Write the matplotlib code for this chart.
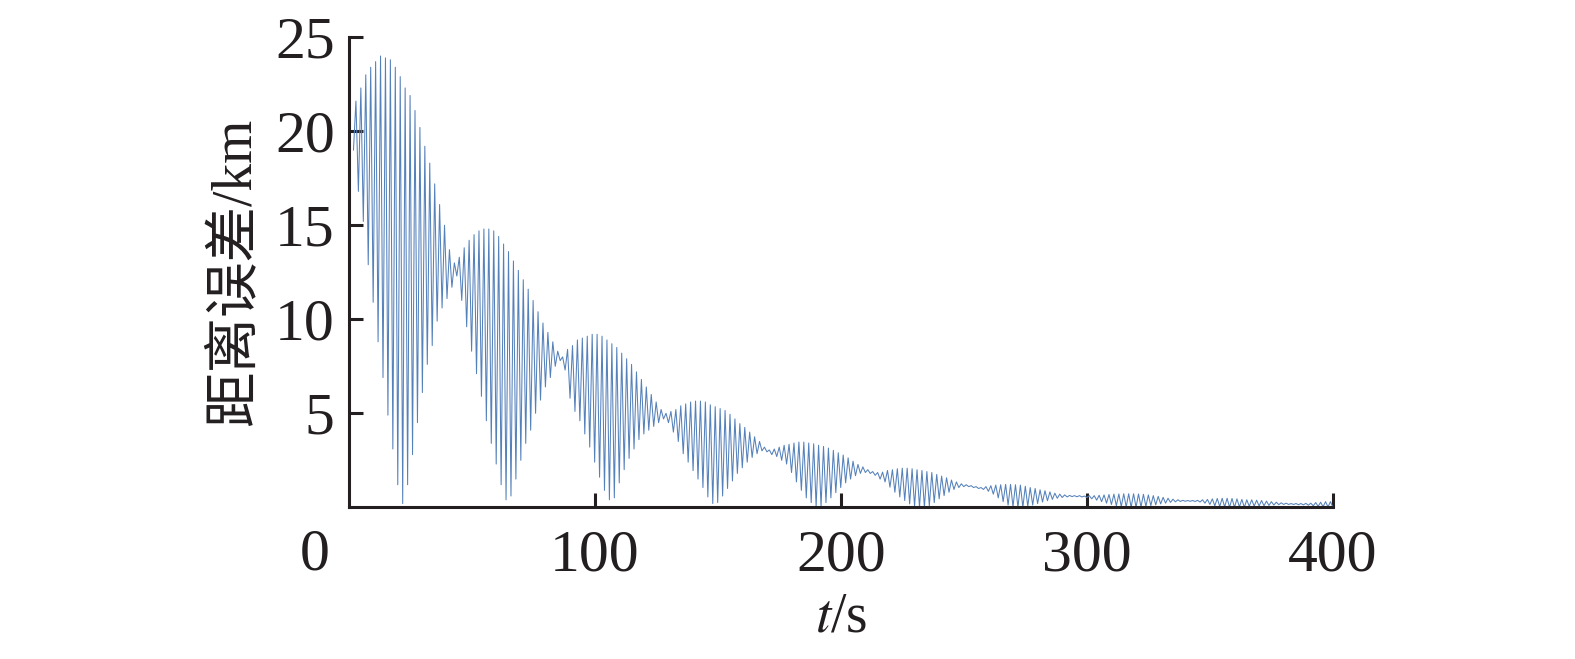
import numpy as np
import matplotlib
matplotlib.use('Agg')
import matplotlib.pyplot as plt

# 字体：数字用 Times 类衬线体，中文用 Noto CJK
plt.rcParams['font.family'] = ['Liberation Serif', 'Noto Sans CJK SC']
plt.rcParams['mathtext.fontset'] = 'stix'

# 波峰（奇数秒 3,5,...,399）距离误差, km
upper = [
    21.6, 22.3, 23.0, 23.4, 23.7, 24.0, 23.9, 23.8, 23.4, 22.9,
    22.3, 21.9, 21.1, 20.2, 19.2, 18.3, 17.2, 16.1, 15.0, 13.7,
    13.0, 13.3, 13.8, 14.2, 14.5, 14.7, 14.8, 14.8, 14.7, 14.4,
    14.0, 13.6, 13.1, 12.6, 12.1, 11.6, 11.0, 10.4, 9.8, 9.3,
    8.8, 8.3, 8.0, 8.4, 8.6, 8.9, 9.0, 9.1, 9.2, 9.2,
    9.1, 8.9, 8.7, 8.5, 8.2, 7.9, 7.6, 7.2, 6.8, 6.4,
    6.0, 5.6, 5.2, 5.0, 5.1, 5.2, 5.4, 5.5, 5.6, 5.65,
    5.65, 5.6, 5.45, 5.35, 5.25, 5.15, 4.95, 4.7, 4.45, 4.25,
    4.0, 3.75, 3.5, 3.2, 3.05, 3.1, 3.2, 3.3, 3.35, 3.42,
    3.47, 3.47, 3.42, 3.38, 3.3, 3.24, 3.15, 3.03, 2.9, 2.78,
    2.63, 2.45, 2.28, 2.15, 2.0, 1.9, 1.85, 1.87, 1.96, 2.0,
    2.05, 2.08, 2.08, 2.05, 2.0, 1.96, 1.9, 1.85, 1.75, 1.66,
    1.57, 1.45, 1.35, 1.25, 1.2, 1.15, 1.1, 1.05, 1.1, 1.15,
    1.18, 1.2, 1.22, 1.22, 1.2, 1.18, 1.12, 1.05, 1.0, 0.93,
    0.88, 0.82, 0.75, 0.7, 0.66, 0.63, 0.62, 0.62, 0.6, 0.62,
    0.62, 0.64, 0.66, 0.68, 0.7, 0.71, 0.72, 0.72, 0.72, 0.71,
    0.69, 0.66, 0.62, 0.58, 0.53, 0.48, 0.43, 0.4, 0.37, 0.36,
    0.36, 0.37, 0.4, 0.42, 0.45, 0.47, 0.48, 0.48, 0.47, 0.45,
    0.42, 0.4, 0.4, 0.38, 0.36, 0.33, 0.3, 0.27, 0.24, 0.22,
    0.2, 0.2, 0.2, 0.21, 0.22, 0.25, 0.27, 0.3, 0.3,
]

# 波谷（偶数秒 2,4,...,400）距离误差, km
lower = [
    19.0, 16.8, 15.2, 12.9, 10.9, 8.8, 6.9, 4.9, 3.1, 1.2,
    0.2, 1.2, 2.8, 4.5, 6.1, 7.6, 8.6, 9.9, 10.6, 11.1,
    11.7, 12.3, 11.0, 9.6, 8.3, 7.1, 5.9, 4.6, 3.4, 2.3,
    1.2, 0.4, 0.6, 1.5, 2.5, 3.4, 4.1, 5.0, 5.7, 6.4,
    6.9, 7.5, 7.8, 7.3, 5.8, 5.1, 4.6, 3.9, 3.2, 2.4,
    1.6, 0.9, 0.4, 0.5, 1.3, 2.0, 2.6, 3.1, 3.6, 3.9,
    4.1, 4.3, 4.5, 4.7, 4.5, 4.0, 3.5, 2.85, 2.4, 1.95,
    1.5, 1.05, 0.55, 0.2, 0.25, 0.6, 1.0, 1.4, 1.8, 2.1,
    2.4, 2.65, 2.85, 3.0, 2.95, 2.8, 2.7, 2.5, 2.3, 1.85,
    1.35, 0.9, 0.5, 0.25, 0.05, 0.05, 0.25, 0.5, 0.78, 1.05,
    1.3, 1.5, 1.68, 1.8, 1.85, 1.8, 1.7, 1.5, 1.35, 1.07,
    0.8, 0.55, 0.36, 0.18, 0.05, 0.0, 0.0, 0.08, 0.25, 0.45,
    0.62, 0.8, 0.95, 1.05, 1.1, 1.1, 1.05, 1.0, 0.95, 0.85,
    0.7, 0.5, 0.3, 0.12, 0.03, 0.0, 0.0, 0.05, 0.12, 0.2,
    0.28, 0.35, 0.42, 0.48, 0.52, 0.55, 0.57, 0.56, 0.55, 0.52,
    0.45, 0.38, 0.3, 0.22, 0.15, 0.08, 0.04, 0.02, 0.0, 0.0,
    0.02, 0.05, 0.09, 0.13, 0.18, 0.22, 0.26, 0.29, 0.31, 0.32,
    0.32, 0.31, 0.28, 0.22, 0.15, 0.08, 0.04, 0.02, 0.0, 0.0,
    0.02, 0.0, 0.05, 0.06, 0.07, 0.08, 0.1, 0.12, 0.14, 0.15,
    0.15, 0.15, 0.14, 0.13, 0.11, 0.08, 0.05, 0.03, 0.02, 0.0,
]

xticks = [100, 200, 300, 400]
yticks = [5, 10, 15, 20, 25]

# 时间轴：波谷在偶数秒，波峰在奇数秒，交替拼接
t_low = np.arange(2, 2 * len(lower) + 1, 2)
t_up = np.arange(3, 2 * len(upper) + 2, 2)
t = np.concatenate([t_low, t_up])
err = np.concatenate([lower, upper])
order = np.argsort(t)
t, err = t[order], err[order]

fig = plt.figure(figsize=(15.75, 6.59), dpi=100)
ax = fig.add_axes([0.2213, 0.2302, 0.625, 0.7134])

ax.plot(t, err, color='#5581bb', linewidth=0.75)

ax.set_xlim(0, 400)
ax.set_ylim(0, 25)
ax.set_xticks(xticks)
ax.set_yticks(yticks)

dark = '#231f20'
for s in ['top', 'right']:
    ax.spines[s].set_visible(False)
for s in ['left', 'bottom']:
    ax.spines[s].set_linewidth(2.2)
    ax.spines[s].set_color(dark)

ax.tick_params(axis='both', direction='in', width=2.2, color=dark,
               labelsize=43, labelcolor=dark)
ax.tick_params(axis='x', length=10, pad=16)
ax.tick_params(axis='y', length=10, pad=10)

# 原点标签 "0"
ax.annotate('0', xy=(0, 0), xycoords='data', xytext=(-34, -21),
            textcoords='offset pixels', ha='center', va='top',
            fontsize=43, color=dark, annotation_clip=False)

ax.set_ylabel('距离误差/km', fontsize=40, color=dark, labelpad=10)
ax.set_xlabel('$t$/s', fontsize=40, color=dark, labelpad=6)

fig.savefig('out.png', dpi=100)
